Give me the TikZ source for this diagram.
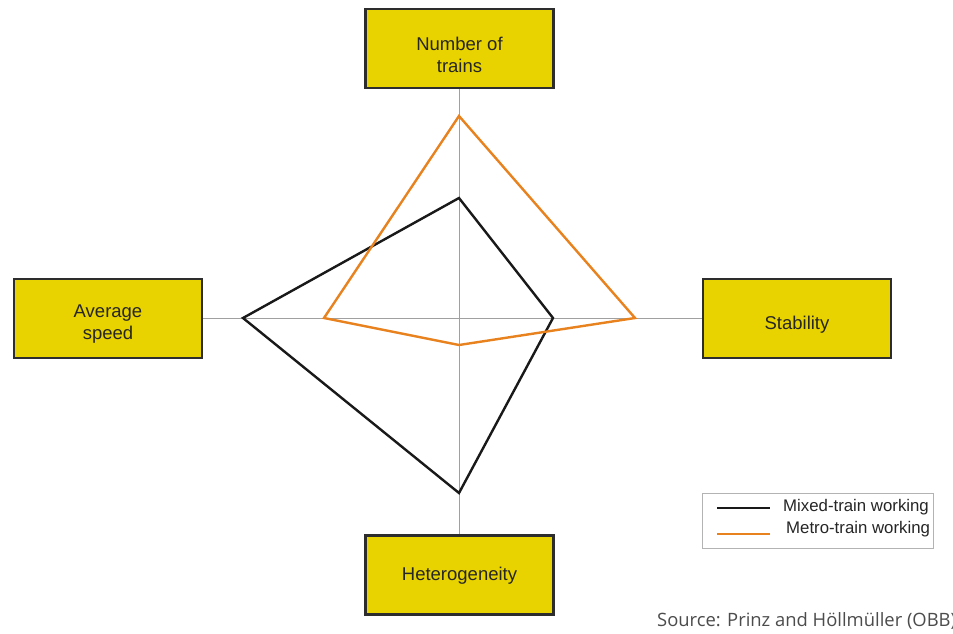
\documentclass[tikz,border=0pt]{standalone}
\usepackage{fontspec}
\setmainfont{Liberation Sans}
\newfontfamily\srcfont{Open Sans}
\definecolor{boxyellow}{RGB}{232,210,0}
\definecolor{boxedge}{RGB}{45,45,45}
\definecolor{metro}{RGB}{232,130,30}
\definecolor{axisgray}{RGB}{160,160,160}
\begin{document}
\begin{tikzpicture}[x=1pt,y=-1pt,
  label box/.style={draw=boxedge,line width=2.6pt,fill=boxyellow,minimum width=188pt,minimum height=79pt,inner sep=0pt},
  box text/.style={inner sep=0pt,align=center,font=\fontsize{18.5}{22}\selectfont,text=black!85},
  axis/.style={draw=axisgray,line width=0.7pt},
  mixed/.style={draw=black!90,line width=2.4pt,line join=miter},
  metro line/.style={draw=metro,line width=2.4pt,line join=miter},
  legend text/.style={anchor=west,inner sep=0pt,font=\fontsize{16.8}{19}\selectfont,text=black!85}]
\useasboundingbox (0,0) rectangle (953,633);
\fill[white] (0,0) rectangle (953,633);
% boxes
\node[label box] (top) at (459.5,48.5) {};
\node[label box] (left) at (108,318.5) {};
\node[label box] (right) at (797,318.5) {};
\node[label box] (bottom) at (459.5,575) {};
\node[box text] (topt) at ([yshift=-6pt]top.center) {Number of\\trains};
\node[box text] (leftt) at ([yshift=-6pt]left.center) {Average\\speed};
\node[box text] (rightt) at ([yshift=-6pt]right.center) {Stability};
\node[box text] (bottomt) at ([yshift=-1pt]bottom.center) {Heterogeneity};
% axes
\draw[axis] (top.south) -- (bottom.north);
\draw[axis] (left.east) -- (right.west);
% polygons
\coordinate (bt) at (459,198);
\coordinate (br) at (553,318);
\coordinate (bb) at (459,493);
\coordinate (bl) at (243,318);
\coordinate (ot) at (459,116);
\coordinate (or) at (635,318);
\coordinate (ob) at (459,345);
\coordinate (ol) at (324,318);
\draw[mixed] (bt) -- (br) -- (bb) -- (bl) -- cycle;
\draw[metro line] (ot) -- (or) -- (ob) -- (ol) -- cycle;
% legend
\node[draw=axisgray!80,line width=0.8pt,minimum width=231pt,minimum height=55pt,inner sep=0pt] (legend) at (817.5,520.5) {};
\coordinate (l1a) at (717,508);
\coordinate (l1b) at (770,508);
\coordinate (l2a) at (717,534);
\coordinate (l2b) at (770,534);
\draw[mixed,line width=2pt] (l1a) -- (l1b);
\draw[metro line,line width=2pt] (l2a) -- (l2b);
\node[legend text] (t1) at (783,507) {Mixed-train working};
\node[legend text] (t2) at (786,529) {Metro-train working};
% source
\begin{scope}
\clip (0,0) rectangle (953,633);
\node[anchor=west,inner sep=0pt,font=\srcfont\fontsize{18.4}{21}\selectfont,text=black!70] (src) at (657,621) {Source: Prinz and Höllmüller (OBB)};
\end{scope}
\end{tikzpicture}
\end{document}
